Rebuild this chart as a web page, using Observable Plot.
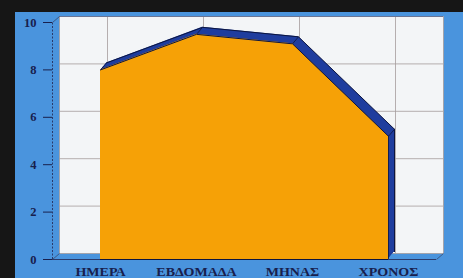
<!DOCTYPE html>
<html>
<head>
<meta charset="utf-8">
<script src="https://cdn.jsdelivr.net/npm/d3@7"></script>
<script src="https://cdn.jsdelivr.net/npm/@observablehq/plot@0.6"></script>
<style>
  html, body { margin: 0; padding: 0; }
  body { width: 463px; height: 278px; background: #161616; position: relative; overflow: hidden; }
  #panel { position: absolute; left: 15px; top: 12px; width: 448px; height: 266px; background: #4a94dd; }
  #chart { position: absolute; left: 0; top: 0; }
</style>
</head>
<body>
<div id="panel"></div>
<div id="chart"></div>
<script>
const categories = ["ΗΜΕΡΑ", "ΕΒΔΟΜΑΔΑ", "ΜΗΝΑΣ", "ΧΡΟΝΟΣ"];
const values = [8.0, 9.5, 9.1, 5.2];
const yTicks = [0, 2, 4, 6, 8, 10];

const data = categories.map((c, i) => ({ i, c, v: values[i] }));

const W = 463, H = 278;
const mL = 52, mR = 27, mT = 22, mB = 19;
const xUnit = (W - mL - mR) / 4;
const yUnit = (H - mT - mB) / 10;
const wallDX = 7, wallDY = 6;
const extDX = 6, extDY = 7;

const ink = "#18204d";
const edge = "#0c1540";
const blue = "#1f3d9e";
const orange = "#f6a106";
const gridC = "#a59c9c";
const serif = "'Liberation Serif', 'DejaVu Serif', serif";

const last = data[data.length - 1];
const corners = [
  { x1: -0.5, y1: 0, x2: -0.5 + wallDX / xUnit, y2: wallDY / yUnit },
  { x1: 3.5, y1: 0, x2: 3.5 + wallDX / xUnit, y2: wallDY / yUnit },
  { x1: -0.5, y1: 10, x2: -0.5 + wallDX / xUnit, y2: 10 + wallDY / yUnit }
];

const marks = [
  Plot.frame({ fill: "#f3f5f7", stroke: "none", dx: wallDX, dy: -wallDY }),
  Plot.gridY(yTicks, { dx: wallDX, dy: -wallDY, stroke: gridC, strokeOpacity: 1, strokeWidth: 0.8 }),
  Plot.gridX([0, 1, 2, 3], { dx: wallDX, dy: -wallDY, stroke: gridC, strokeOpacity: 1, strokeWidth: 0.8 }),
  Plot.ruleX([-0.5, 3.5], { y1: 0, y2: 10, dx: wallDX, dy: -wallDY, stroke: gridC, strokeWidth: 0.8 }),
  Plot.ruleY([10], { x1: -0.5, x2: 3.5, dx: wallDX, dy: -wallDY, stroke: "#5a6a90", strokeWidth: 0.8 }),
  Plot.ruleX([-0.5], { y1: 0, y2: 10, stroke: "#2a3a6a", strokeDasharray: "2,1.5" }),
  Plot.link(corners, { x1: "x1", y1: "y1", x2: "x2", y2: "y2", stroke: "#3a4a70", strokeWidth: 0.8 }),
  Plot.ruleY([0], { x1: -0.5, x2: 3.5, stroke: "#2a3a6a" })
];

for (let k = 1; k <= extDX; k++) {
  marks.push(Plot.areaY(data, { x: "i", y: "v", fill: blue, dx: k, dy: -k * extDY / extDX }));
}
marks.push(
  Plot.lineY(data, { x: "i", y: "v", dx: extDX, dy: -extDY, stroke: edge, strokeWidth: 1 }),
  Plot.ruleX([last], { x: "i", y1: 0, y2: "v", dx: extDX, dy: -extDY, stroke: edge }),
  Plot.link(data, { x1: "i", y1: "v", x2: d => d.i + extDX / xUnit, y2: d => d.v + extDY / yUnit, stroke: edge, strokeWidth: 0.8 }),
  Plot.areaY(data, { x: "i", y: "v", fill: orange }),
  Plot.lineY(data, { x: "i", y: "v", stroke: edge, strokeWidth: 1 }),
  Plot.ruleX([last], { x: "i", y1: 0, y2: "v", stroke: edge, strokeWidth: 0.8 }),
  Plot.ruleY([0], { x1: 0, x2: 3, stroke: edge }),
  Plot.axisY(yTicks, { tickSize: 9, tickPadding: 7, color: ink, stroke: ink, label: null }),
  Plot.axisX([0, 1, 2, 3], { tickFormat: i => categories[i], tickSize: 0, tickPadding: 8, color: ink, label: null })
);

const chart = Plot.plot({
  width: W, height: H,
  marginLeft: mL, marginRight: mR, marginTop: mT, marginBottom: mB,
  style: { background: "transparent", overflow: "visible", fontFamily: serif },
  x: { domain: [-0.5, 3.5] },
  y: { domain: [0, 10] },
  marks
});

d3.select(chart).selectAll("text").each(function () {
  const s = this.textContent.trim();
  if (categories.includes(s)) {
    const t = this.getAttribute("transform") || "";
    this.setAttribute("transform", t + " scale(1.22,1)");
    this.setAttribute("font-size", "11.5");
    this.style.fontSize = "11.5px";
  } else {
    this.setAttribute("font-size", "12.5");
    this.style.fontSize = "12.5px";
  }
  this.style.fontWeight = "bold";
  this.style.fontFamily = serif;
  this.style.fill = ink;
});

document.getElementById("chart").appendChild(chart);
</script>
</body>
</html>
